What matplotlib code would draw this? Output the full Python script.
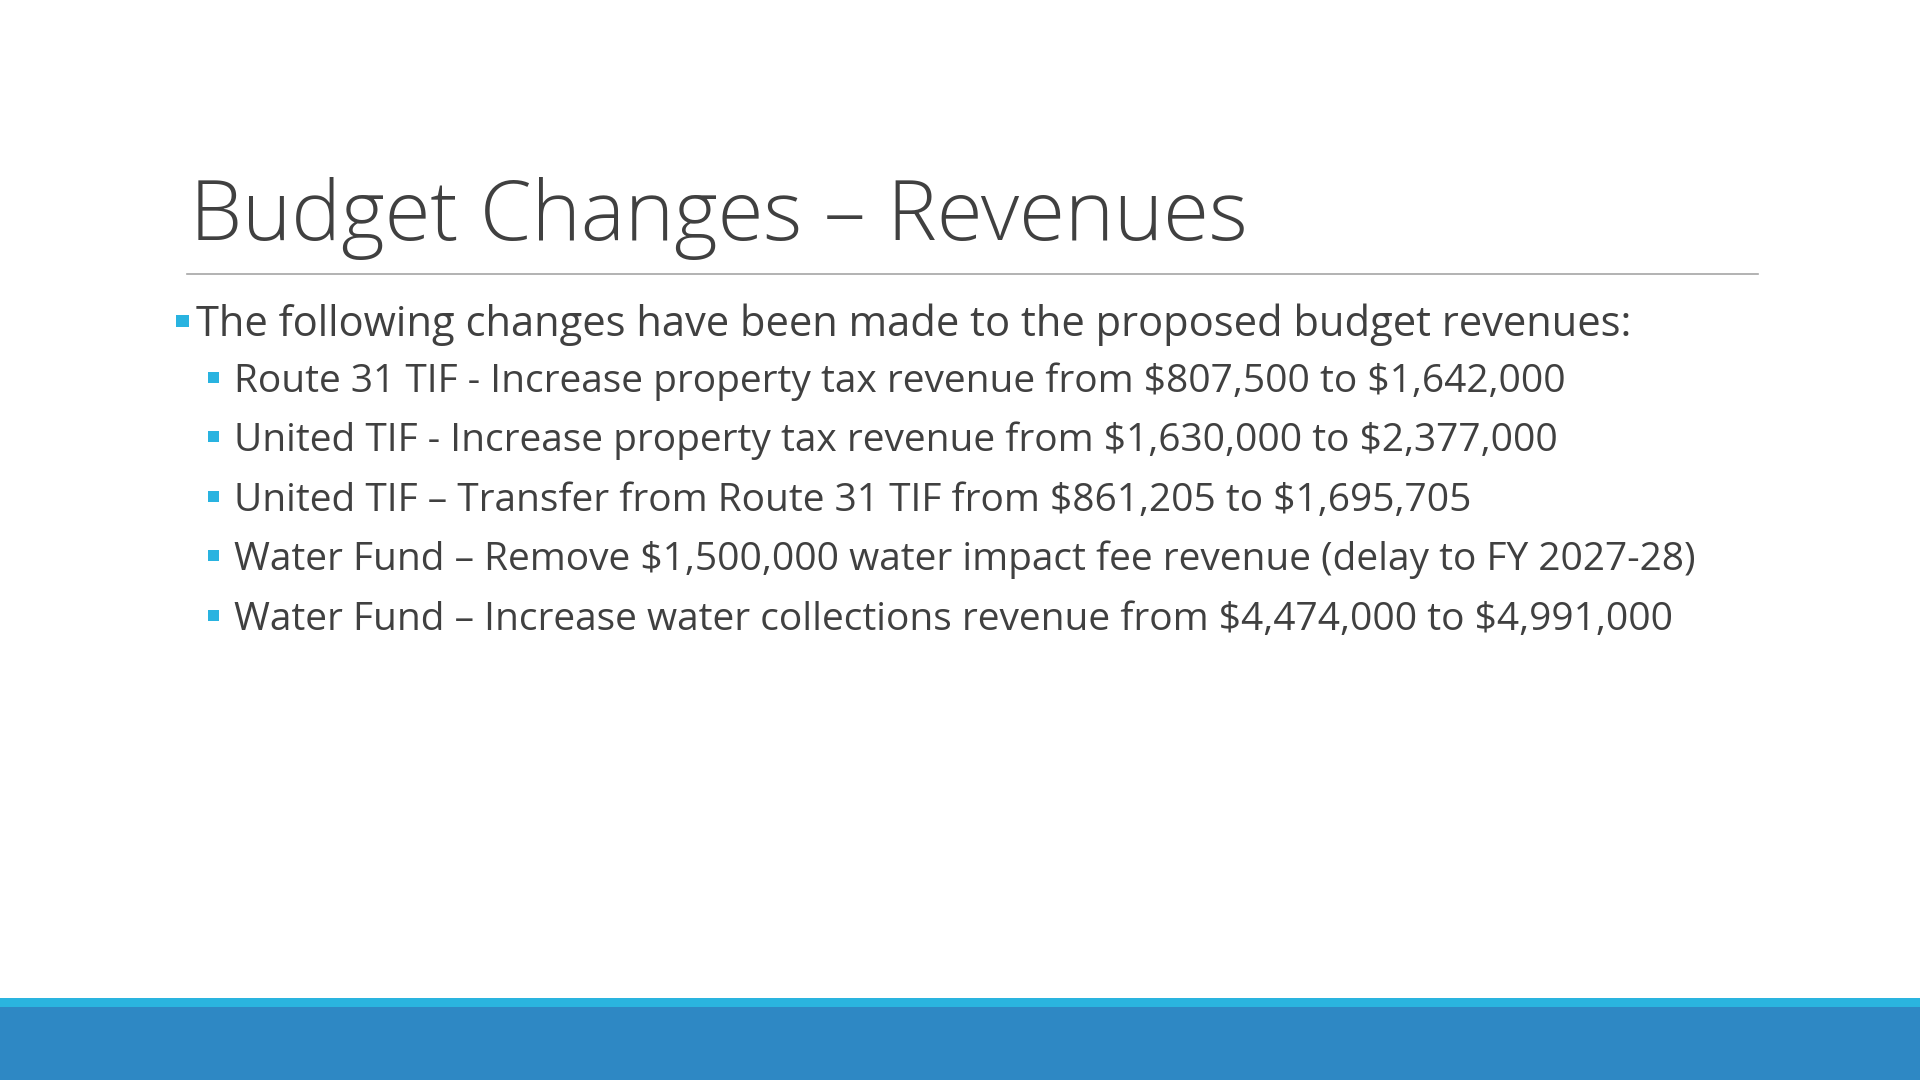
import matplotlib
matplotlib.use("Agg")
import matplotlib.pyplot as plt
from matplotlib.patches import Rectangle

title = "Budget Changes – Revenues"
main_bullet = "The following changes have been made to the proposed budget revenues:"
sub_bullets = [
    "Route 31 TIF - Increase property tax revenue from $807,500 to $1,642,000",
    "United TIF - Increase property tax revenue from $1,630,000 to $2,377,000",
    "United TIF – Transfer from Route 31 TIF from $861,205 to $1,695,705",
    "Water Fund – Remove $1,500,000 water impact fee revenue (delay to FY 2027-28)",
    "Water Fund – Increase water collections revenue from $4,474,000 to $4,991,000",
]

W, H = 1568, 882
fig = plt.figure(figsize=(19.2, 10.8), dpi=100)
fig.patch.set_facecolor("white")
ax = fig.add_axes([0, 0, 1, 1])
ax.set_xlim(0, W); ax.set_ylim(H, 0); ax.axis("off")

txt = "#404040"
blue = "#29B3E0"
fam = ["Open Sans", "DejaVu Sans"]

ax.text(155, 196, title, fontsize=60, color=txt, family=fam, weight="light", va="baseline")
ax.plot([153, 1436], [224, 224], color="#A6A6A6", lw=1.2)

ax.add_patch(Rectangle((144, 257), 10, 10, color=blue, lw=0))
ax.text(160, 265, main_bullet, fontsize=30, color=txt, family=fam, va="center", parse_math=False)

ys = [312, 360, 409, 457, 506]
for y, s in zip(ys, sub_bullets):
    ax.add_patch(Rectangle((170, y - 8), 9, 9, color=blue, lw=0))
    ax.text(191, y, s, fontsize=28, color=txt, family=fam, va="center", parse_math=False)

ax.add_patch(Rectangle((0, 815), W, 8, color="#2AB4DF", lw=0))
ax.add_patch(Rectangle((0, 822), W, 60, color="#2E88C4", lw=0))

fig.savefig("out.png", dpi=100)
